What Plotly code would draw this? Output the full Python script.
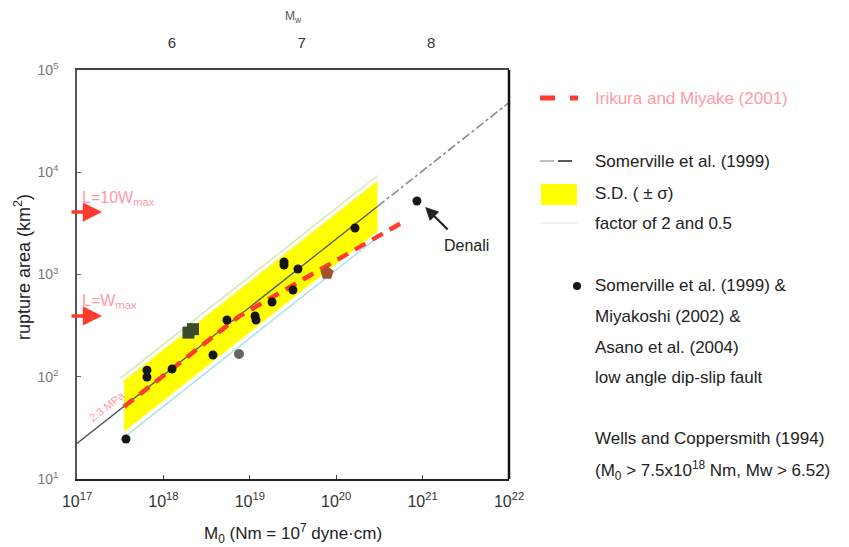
import plotly.graph_objects as go
import numpy as np

# ---------------- data ----------------
# Somerville et al. (1999) scaling line
sv_m0 = [1e17, 3e20]
sv_area = [22.3, 4620]
sv_ext_m0 = [3e20, 1e22]
sv_ext_area = [4620, 48000]

# S.D. (+/- sigma) band
band_m0 = [3.5e17, 3e20]
band_upper = [90, 8080]
band_lower = [29, 2640]

# factor of 2 and 0.5
fac_m0 = [3.2e17, 3e20]
fac_upper = [97, 9240]
fac_lower = [24, 2310]

# Irikura and Miyake (2001)
ir_m0 = [3.5e17, 7.5e18, 6e20]
ir_area = [51, 390, 3280]

# Observed events (black dots)
ev_m0 = [3.69e17, 6.45e17, 6.45e17, 1.26e18, 3.75e18, 5.44e18, 1.15e19, 1.18e19,
         1.81e19, 2.49e19, 2.49e19, 3.61e19, 3.16e19, 1.65e20, 8.6e20]
ev_area = [24.6, 116, 99.5, 119, 163, 359, 393, 359,
           538, 1239, 1325, 1132, 705, 2851, 5240]
# special coloured events
green_m0 = [1.95e18, 2.2e18]
green_area = [270, 292]
gray_m0 = [7.5e18]
gray_area = [167]
brown_m0 = [7.83e19]
brown_area = [1035]

# axis ticks
x_tick_exp = [17, 18, 19, 20, 21, 22]
y_tick_exp = [1, 2, 3, 4, 5]
mw_ticks = [6, 7, 8]

# left arrows (rupture area levels)
arrow_area = [4080, 393]
arrow_labels = ["L=10W<sub>max</sub>", "L=W<sub>max</sub>"]

# ---------------- geometry helpers (pixels -> paper) ----------------
L, R, T, B = 77, 509, 70, 479
W, H = 849, 547
def px(x):
    return (x - L) / (R - L)
def py(y):
    return (B - y) / (B - T)

FONT = "Liberation Sans, Arial, sans-serif"
RED = "#ff3b2f"
PINK = "#ff9aa6"
LEG = 17

fig = go.Figure()

# factor of 2 lines
fig.add_trace(go.Scatter(x=fac_m0, y=fac_upper, mode="lines",
                         line=dict(color="#d3eab0", width=1.5), hoverinfo="skip"))
fig.add_trace(go.Scatter(x=fac_m0, y=fac_lower, mode="lines",
                         line=dict(color="#ace4e4", width=1.5), hoverinfo="skip"))
# SD band
fig.add_trace(go.Scatter(x=band_m0, y=band_lower, mode="lines",
                         line=dict(color="#ffff00", width=0), hoverinfo="skip"))
fig.add_trace(go.Scatter(x=band_m0, y=band_upper, mode="lines", fill="tonexty",
                         fillcolor="#ffff00",
                         line=dict(color="#fbfb30", width=2), hoverinfo="skip"))
# Somerville line
fig.add_trace(go.Scatter(x=sv_m0, y=sv_area, mode="lines",
                         line=dict(color="#555555", width=1.3), hoverinfo="skip"))
fig.add_trace(go.Scatter(x=sv_ext_m0, y=sv_ext_area, mode="lines",
                         line=dict(color="#8a8a8a", width=1.6, dash="dashdot"), hoverinfo="skip"))
# Irikura and Miyake
fig.add_trace(go.Scatter(x=ir_m0, y=ir_area, mode="lines",
                         line=dict(color=RED, width=4.5, dash="12px,8px"), hoverinfo="skip"))
# events
fig.add_trace(go.Scatter(x=ev_m0, y=ev_area, mode="markers",
                         marker=dict(color="#151515", size=9), hoverinfo="skip"))
fig.add_trace(go.Scatter(x=green_m0, y=green_area, mode="markers",
                         marker=dict(color="#3c4a2c", size=12, symbol="square"), hoverinfo="skip"))
fig.add_trace(go.Scatter(x=gray_m0, y=gray_area, mode="markers",
                         marker=dict(color="#666666", size=10), hoverinfo="skip"))
fig.add_trace(go.Scatter(x=brown_m0, y=brown_area, mode="markers",
                         marker=dict(color="#a4512e", size=14, symbol="pentagon"), hoverinfo="skip"))
# dummy trace for top axis
mw_m0 = [10.0 ** (1.5 * m + 9.1) for m in mw_ticks]
fig.add_trace(go.Scatter(x=mw_m0, y=[10.0, 10.0, 10.0], xaxis="x2", mode="markers",
                         marker=dict(opacity=0), hoverinfo="skip"))

annotations = []
shapes = []

def text_at(x, y, text, size, color, xanchor="center", angle=0):
    annotations.append(dict(x=px(x), y=py(y), xref="paper", yref="paper", text=text,
                            showarrow=False, xanchor=xanchor, yanchor="middle",
                            textangle=angle, font=dict(family=FONT, size=size, color=color)))

# left red arrows
for a, lab in zip(arrow_area, arrow_labels):
    annotations.append(dict(x=np.log10(1.95e17), y=np.log10(a), xref="x", yref="y",
                            ax=-32, ay=0, showarrow=True, arrowhead=2, arrowsize=1.1,
                            arrowwidth=3.5, arrowcolor=RED, text=""))
    annotations.append(dict(x=px(80), y=np.log10(a), xref="paper", yref="y",
                            yshift=14, text=lab, showarrow=False, xanchor="left",
                            yanchor="middle",
                            font=dict(family=FONT, size=16, color=PINK)))

# 2.3 MPa label
annotations.append(dict(x=17.35, y=1.71, xref="x", yref="y", text="2.3 MPa",
                        showarrow=False, textangle=-38, xanchor="center", yanchor="middle",
                        font=dict(family=FONT, size=11, color=PINK)))

# Denali
annotations.append(dict(x=21.03, y=3.66, xref="x", yref="y", ax=24, ay=24,
                        showarrow=True, arrowhead=2, arrowsize=1.2, arrowwidth=2.2,
                        arrowcolor="#222222", text=""))
text_at(466, 245, "Denali", 16, "#222222")

# axis titles
text_at(293, 533, "M<sub>0</sub> (Nm = 10<sup>7</sup> dyne·cm)", 17, "#222222")
text_at(22, 267, "rupture area (km<sup>2</sup>)", 18, "#222222", angle=-90)
text_at(293, 17, "M<sub>w</sub>", 12, "#555555")

# legend (manual)
LX = 593
shapes.append(dict(type="line", xref="paper", yref="paper", x0=px(540), x1=px(578),
                   y0=py(98), y1=py(98), line=dict(color=RED, width=5, dash="dash")))
text_at(LX, 98, "Irikura and Miyake (2001)", LEG, PINK, xanchor="left")
shapes.append(dict(type="line", xref="paper", yref="paper", x0=px(540), x1=px(554),
                   y0=py(161), y1=py(161), line=dict(color="#aaaaaa", width=1.5)))
shapes.append(dict(type="line", xref="paper", yref="paper", x0=px(558), x1=px(572),
                   y0=py(161), y1=py(161), line=dict(color="#222222", width=1.5)))
text_at(LX, 161, "Somerville et al. (1999)", LEG, "#222222", xanchor="left")
shapes.append(dict(type="rect", xref="paper", yref="paper", x0=px(541), x1=px(577),
                   y0=py(205), y1=py(184), fillcolor="#ffff00", line=dict(width=0)))
text_at(LX, 193, "S.D. ( ± σ)", LEG, "#222222", xanchor="left")
shapes.append(dict(type="line", xref="paper", yref="paper", x0=px(541), x1=px(577),
                   y0=py(223), y1=py(223), line=dict(color="#e4efe0", width=1.5)))
text_at(LX, 224, "factor of 2 and 0.5", LEG, "#222222", xanchor="left")
shapes.append(dict(type="circle", xref="paper", yref="paper", x0=px(573), x1=px(581),
                   y0=py(290), y1=py(282), fillcolor="#151515", line=dict(width=0)))
for yy, t in zip([285, 316, 347, 377, 438, 470],
                 ["Somerville et al. (1999) &", "Miyakoshi (2002) &", "Asano et al. (2004)",
                  "low angle dip-slip fault", "Wells and Coppersmith (1994)",
                  "(M<sub>0</sub> > 7.5x10<sup>18</sup> Nm, Mw > 6.52)"]):
    text_at(LX, yy, t, LEG, "#222222", xanchor="left")

fig.update_layout(
    width=W, height=H,
    margin=dict(l=L, r=W - R, t=T, b=H - B, autoexpand=False),
    paper_bgcolor="white", plot_bgcolor="white",
    showlegend=False,
    font=dict(family=FONT),
    xaxis=dict(type="log", range=[17, 22], tickvals=[10.0 ** e for e in x_tick_exp],
               ticktext=["10<sup>%d</sup>" % e for e in x_tick_exp], automargin=False,
               showgrid=False, zeroline=False, showline=True, linecolor="#222222",
               linewidth=2, mirror=False, ticks="inside", ticklen=4, tickcolor="#444",
               ticklabelstandoff=7,
               tickfont=dict(family=FONT, size=16, color="#333333")),
    xaxis2=dict(type="log", range=[17, 22], overlaying="x", side="top", automargin=False,
                tickvals=mw_m0, ticktext=[str(m) for m in mw_ticks],
                showgrid=False, zeroline=False, showline=True, linecolor="#444444",
                linewidth=2, ticks="", ticklabelstandoff=14,
                tickfont=dict(family=FONT, size=15, color="#333333")),
    yaxis=dict(type="log", range=[1, 5], tickvals=[10.0 ** e for e in y_tick_exp],
               ticktext=["10<sup>%d</sup>" % e for e in y_tick_exp], automargin=False,
               showgrid=False, zeroline=False, showline=True, linecolor="#555555",
               linewidth=1.5, mirror=False, ticks="inside", ticklen=4, tickcolor="#666",
               ticklabelstandoff=14,
               tickfont=dict(family=FONT, size=14, color="#777777")),
    annotations=annotations,
    shapes=shapes + [dict(type="line", xref="paper", yref="paper", x0=1, x1=1, y0=0, y1=1,
                          line=dict(color="#111111", width=2.5))],
)

fig.write_html("out.html", config={"displayModeBar": False},
               post_script="document.body.style.margin='0px';document.body.style.overflow='hidden';")
